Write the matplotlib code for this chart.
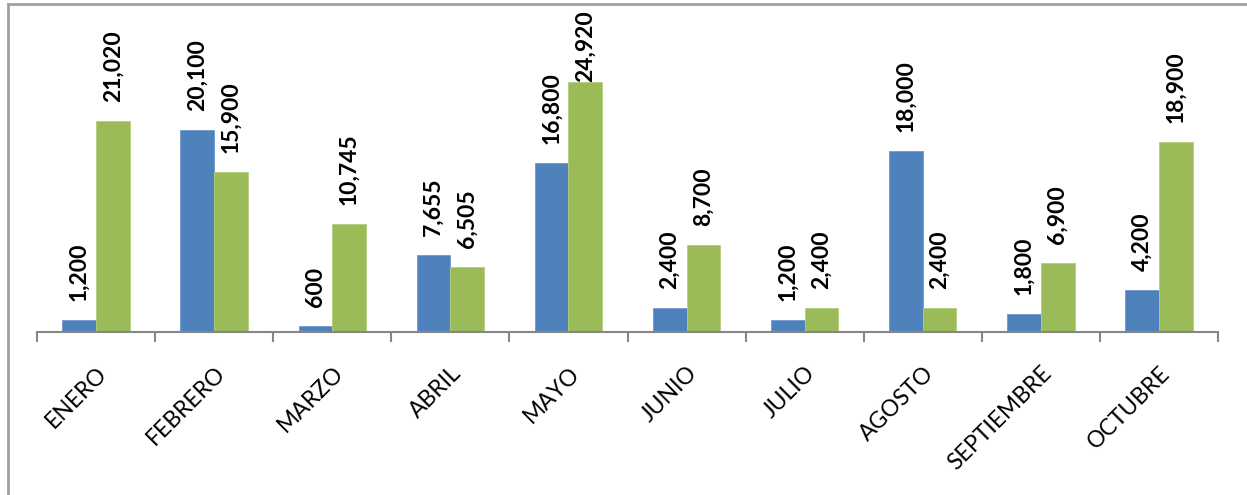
import matplotlib
matplotlib.use('Agg')
import matplotlib.pyplot as plt
import numpy as np
from matplotlib.lines import Line2D

months = ['ENERO', 'FEBRERO', 'MARZO', 'ABRIL', 'MAYO', 'JUNIO',
          'JULIO', 'AGOSTO', 'SEPTIEMBRE', 'OCTUBRE']
serie_azul = [1200, 20100, 600, 7655, 16800, 2400, 1200, 18000, 1800, 4200]
serie_verde = [21020, 15900, 10745, 6505, 24920, 8700, 2400, 2400, 6900, 18900]

plt.rcParams['font.family'] = ['Lato', 'DejaVu Sans']

fig = plt.figure(figsize=(12.47, 4.95), dpi=100)
ax = fig.add_axes([37 / 1247, 1 - 332 / 495, (1218 - 37) / 1247, (332 - 31) / 495])

x = np.arange(len(months))
w = 0.285
b1 = ax.bar(x - w / 2, serie_azul, w, color='#4F81BD', edgecolor='#6F98CC', linewidth=0.6)
b2 = ax.bar(x + w / 2, serie_verde, w, color='#9BBB59', edgecolor='#B3CF7D', linewidth=0.6)

# etiquetas: como en Excel, bajan si no caben arriba
for bars in (b1, b2):
    for r in bars:
        v = r.get_height()
        off = max(0, min(1900, 24950 - v))
        ax.text(r.get_x() + r.get_width() / 2, v + off, f'{v:,.0f}',
                rotation=90, ha='center', va='bottom',
                fontsize=16.5, fontweight='bold', color='black', clip_on=False)

ax.set_xlim(-0.5, len(months) - 0.5)
ax.set_ylim(0, 30000)
ax.set_yticks([])
for s in ('top', 'right', 'left'):
    ax.spines[s].set_visible(False)
ax.spines['bottom'].set_color('#868686')
ax.spines['bottom'].set_linewidth(1.5)

ax.set_xticks(x)
ax.set_xticklabels(months, rotation=45, ha='right', rotation_mode='anchor',
                   fontsize=16.5)
ax.tick_params(axis='x', which='major', length=0, pad=22)
ax.set_xticks(np.arange(len(months) + 1) - 0.5, minor=True)
ax.tick_params(axis='x', which='minor', length=7, width=1.5, color='#868686')

# marco del gráfico
fig.add_artist(Line2D([8 / 1247, 8 / 1247], [0, 1 - 4 / 495], transform=fig.transFigure,
                      color='#A0A0A0', linewidth=2))
fig.add_artist(Line2D([8 / 1247, 1], [1 - 4 / 495, 1 - 4 / 495], transform=fig.transFigure,
                      color='#A0A0A0', linewidth=2))

fig.savefig('out.png', dpi=100)
